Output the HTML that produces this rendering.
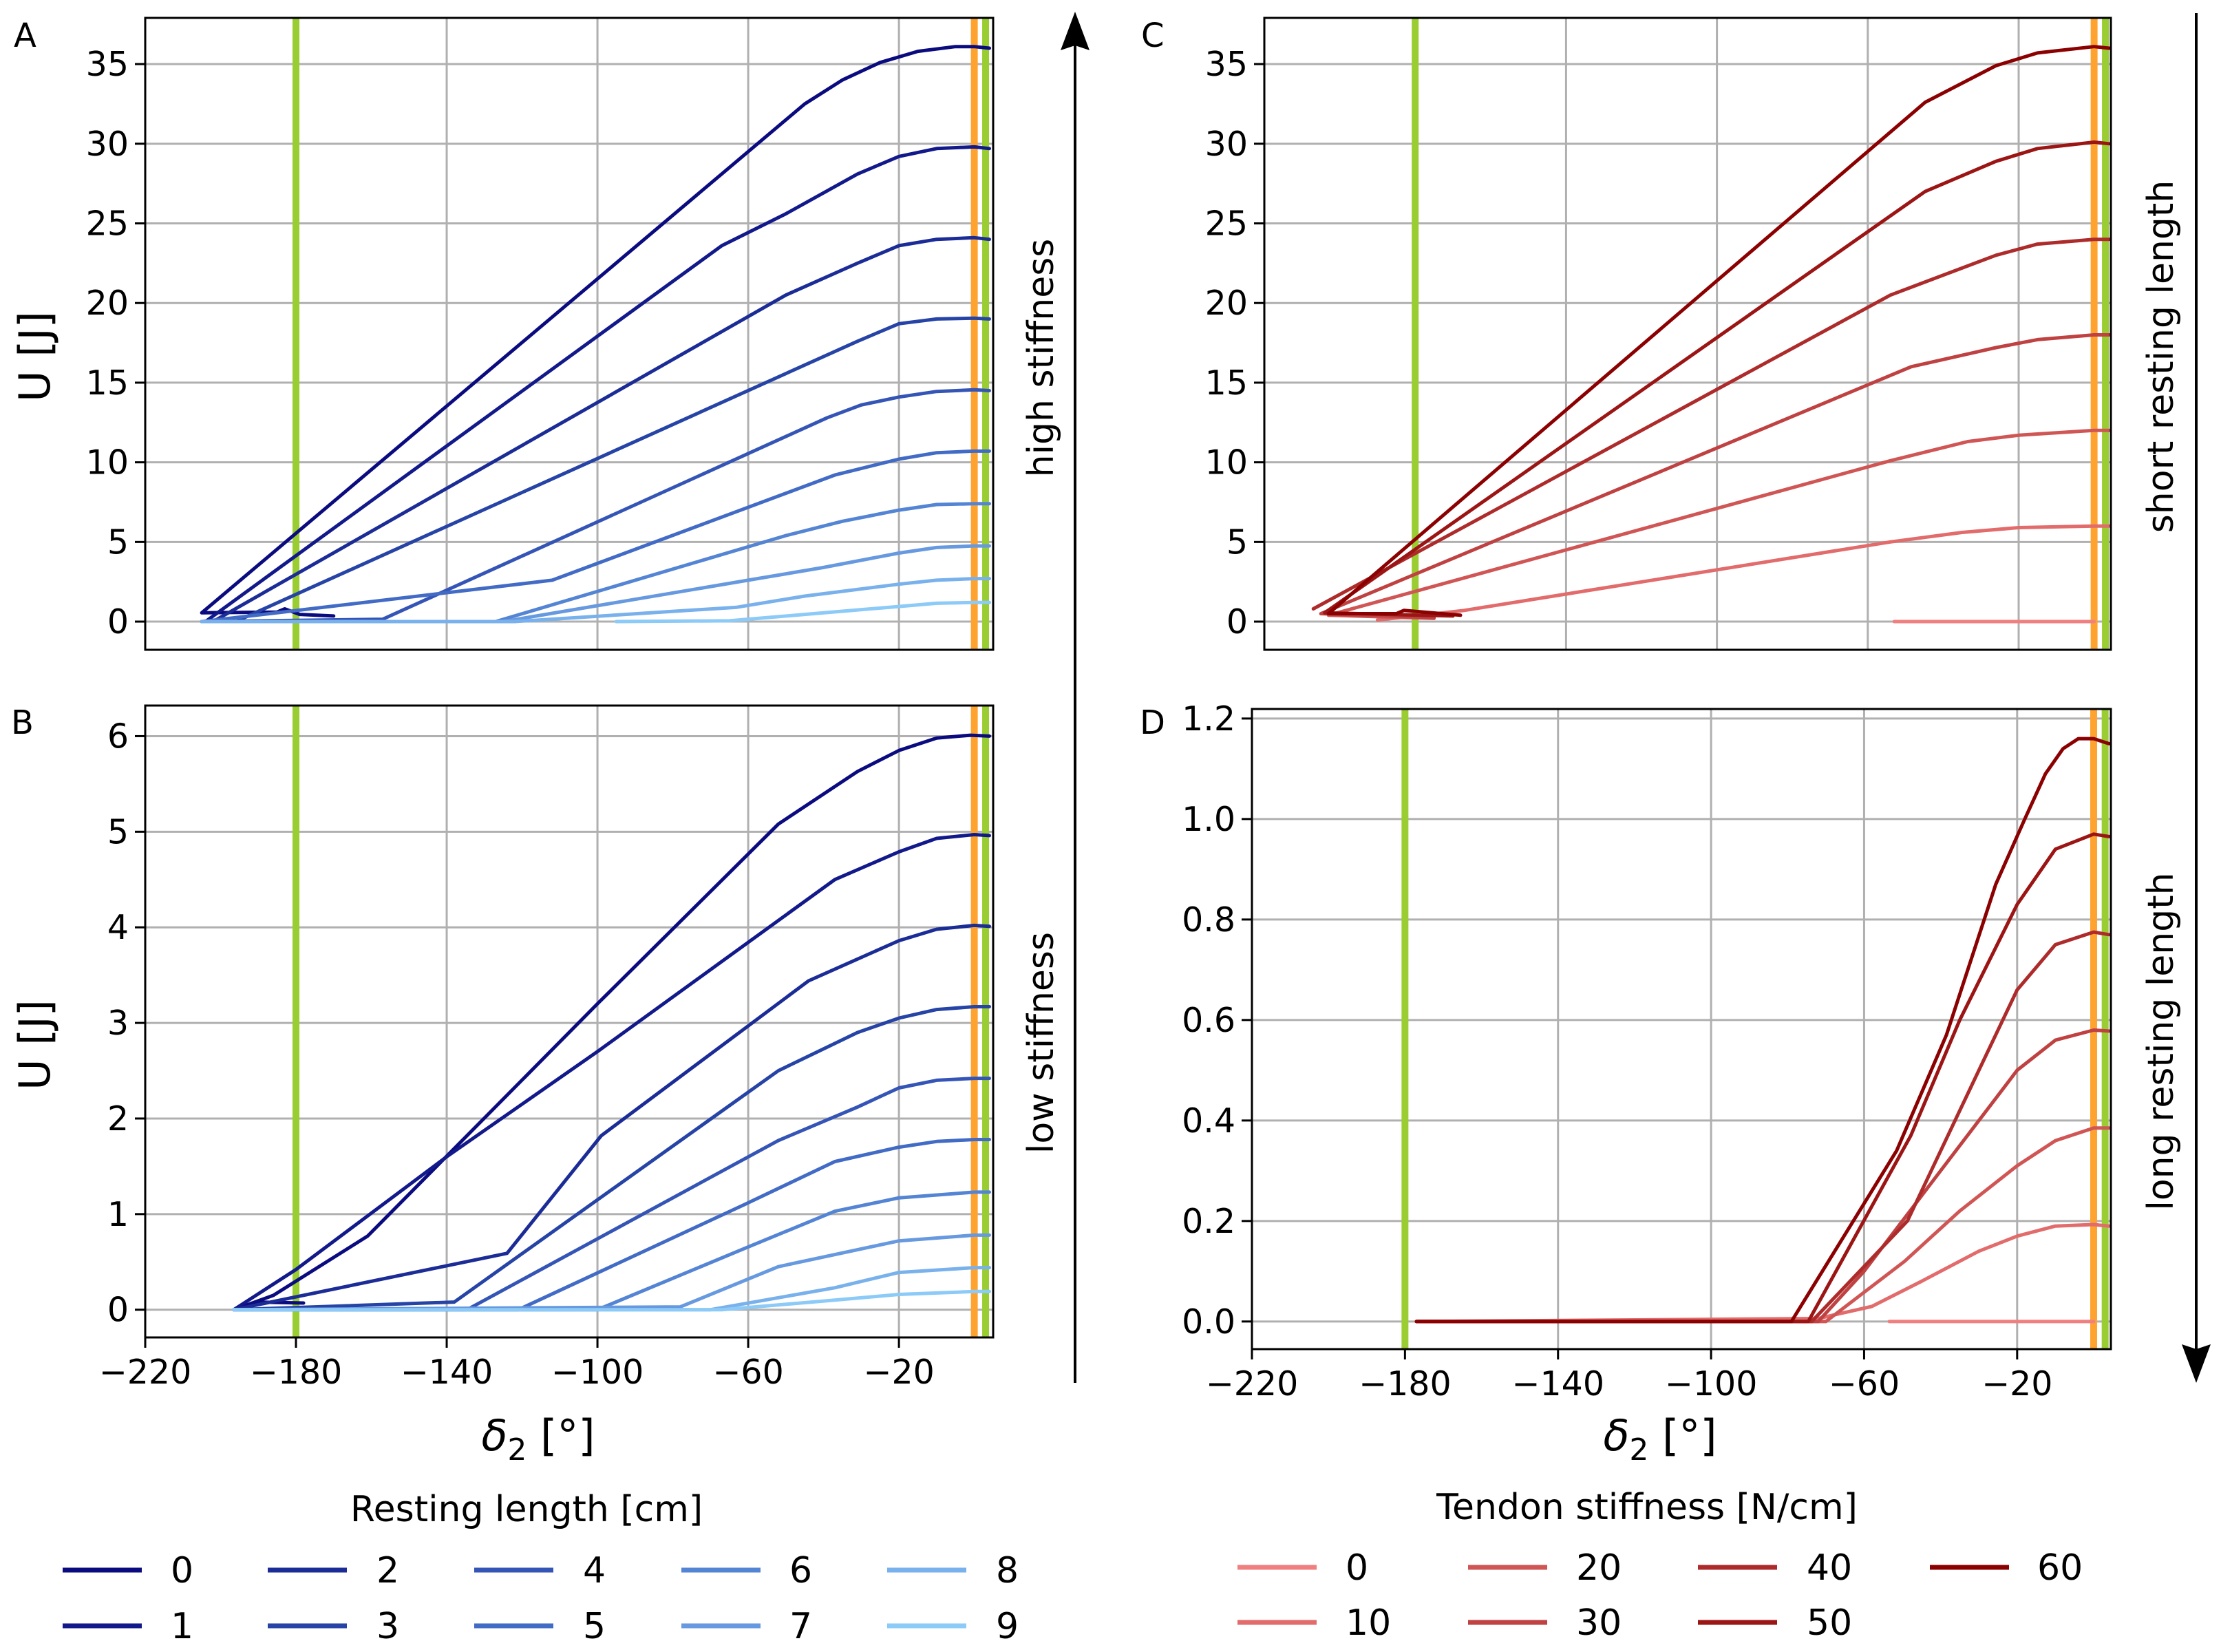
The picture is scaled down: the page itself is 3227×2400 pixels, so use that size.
<!DOCTYPE html>
<html><head><meta charset="utf-8"><style>
html,body{margin:0;padding:0;background:#fff;}
svg{display:block;font-family:"DejaVu Sans","Liberation Sans",sans-serif;}
</style></head><body>
<svg id="fig" xmlns="http://www.w3.org/2000/svg" width="3227" height="2400" viewBox="0 0 3227 2400">
<rect width="3227" height="2400" fill="#fff"/>
</svg>
<script>
const blues = ["#0b0b80","#12198a","#1b2c96","#2643a6","#3455b6","#426bc6","#5484d4","#6699df","#79b1ec","#8ccaf7"];
const reds = ["#f08080","#e26b6b","#d05656","#bf4141","#ad2b2b","#9c1515","#8b0000"];
const restingLabels = ["0","1","2","3","4","5","6","7","8","9"];
const stiffLabels = ["0","10","20","30","40","50","60"];
const xTicks = [-220,-180,-140,-100,-60,-20];
const yTicksBig = [0,5,10,15,20,25,30,35];
const yTicksB = [0,1,2,3,4,5,6];
const yTicksD = [0,0.2,0.4,0.6,0.8,1.0,1.2];
const vGreen = [-180,3];
const vOrange = [0];

const A0 = [[-170,0.35],[-179,0.45],[-183,0.8],[-185,0.6],[-205,0.55],[-45,32.5],[-35,34],[-25,35.1],[-15,35.8],[-5,36.1],[0,36.1],[4,36.0]];
const A1 = [[-204,0],[-67,23.6],[-50,25.6],[-31,28.1],[-20,29.2],[-10,29.7],[0,29.8],[4,29.7]];
const A2 = [[-202,0],[-50,20.5],[-31,22.5],[-20,23.6],[-10,24.0],[0,24.1],[4,24.0]];
const A3 = [[-196,0],[-31,17.6],[-20,18.7],[-10,19.0],[0,19.05],[4,19.0]];
const A4 = [[-205,0],[-157,0.15],[-39,12.8],[-30,13.6],[-20,14.1],[-10,14.45],[0,14.55],[4,14.5]];
const A5 = [[-205,0],[-187,0.5],[-112,2.6],[-37,9.2],[-20,10.2],[-10,10.6],[0,10.7],[4,10.7]];
const A6 = [[-205,0],[-127,0],[-50,5.4],[-35,6.3],[-20,7.0],[-10,7.35],[0,7.4],[4,7.4]];
const A7 = [[-205,0],[-125,0],[-60,2.6],[-40,3.4],[-20,4.3],[-10,4.65],[0,4.75],[4,4.75]];
const A8 = [[-205,0],[-122,0],[-63,0.9],[-45,1.6],[-20,2.35],[-10,2.6],[0,2.7],[4,2.7]];
const A9 = [[-95,0],[-65,0.05],[-45,0.45],[-20,0.95],[-10,1.15],[0,1.2],[4,1.2]];

const B0 = [[-178,0.07],[-190,0.08],[-196.5,0],[-186,0.15],[-161,0.77],[-100,3.2],[-52,5.08],[-31,5.63],[-20,5.85],[-10,5.98],[-1,6.01],[4,6.0]];
const B1 = [[-196.5,0],[-180,0.42],[-140,1.6],[-100,2.7],[-37,4.5],[-20,4.79],[-10,4.93],[0,4.97],[4,4.96]];
const B2 = [[-196.5,0],[-124,0.59],[-99,1.82],[-44,3.44],[-20,3.86],[-10,3.98],[0,4.02],[4,4.01]];
const B3 = [[-196.5,0],[-138,0.08],[-52,2.5],[-31,2.9],[-20,3.05],[-10,3.14],[0,3.17],[4,3.17]];
const B4 = [[-196.5,0],[-134.6,0],[-52,1.77],[-31,2.12],[-20,2.32],[-10,2.4],[0,2.42],[4,2.42]];
const B5 = [[-196.5,0],[-121,0],[-61,1.1],[-37,1.55],[-20,1.7],[-10,1.76],[0,1.78],[4,1.78]];
const B6 = [[-196.5,0],[-100,0],[-61,0.64],[-37,1.03],[-20,1.17],[0,1.23],[4,1.23]];
const B7 = [[-196.5,0],[-78,0.03],[-52,0.45],[-20,0.72],[0,0.78],[4,0.78]];
const B8 = [[-196.5,0],[-70,0],[-37,0.23],[-20,0.39],[0,0.44],[4,0.44]];
const B9 = [[-196.5,0],[-67,0],[-37,0.1],[-20,0.16],[0,0.19],[4,0.19]];

const C0 = [[-53,0],[0,0]];
const C1 = [[-190,0.1],[-180,0.35],[-167,0.7],[-54,5.0],[-35,5.6],[-20,5.9],[0,6.0],[4,6.0]];
const C2 = [[-175,0.2],[-203,0.4],[-54,10.1],[-33.5,11.3],[-20,11.7],[0,12.0],[4,12.0]];
const C3 = [[-175,0.25],[-205,0.5],[-48.5,16],[-26,17.2],[-15,17.7],[0,18.0],[4,18.0]];
const C4 = [[-207,0.8],[-54,20.5],[-26,23],[-15,23.7],[0,24.0],[4,24.0]];
const C5 = [[-170,0.35],[-204,0.55],[-44.8,27.0],[-26,28.9],[-15,29.7],[0,30.1],[4,30.0]];
const C6 = [[-168,0.4],[-183,0.7],[-185,0.5],[-203,0.5],[-44.8,32.6],[-26,34.9],[-15,35.7],[0,36.1],[4,36.0]];

const D0 = [[-53.4,0],[0,0]];
const D1 = [[-177,0],[-72,0.006],[-58,0.03],[-45,0.08],[-30,0.14],[-20,0.17],[-10,0.19],[0,0.193],[4,0.19]];
const D2 = [[-177,0],[-70,0],[-49.4,0.12],[-35,0.22],[-20,0.31],[-10,0.36],[0,0.385],[4,0.385]];
const D3 = [[-177,0],[-72,0],[-60,0.1],[-40,0.3],[-20,0.5],[-10,0.56],[0,0.58],[4,0.578]];
const D4 = [[-177,0],[-73.7,0],[-48.7,0.2],[-30,0.5],[-20,0.66],[-10,0.75],[0,0.775],[4,0.77]];
const D5 = [[-177,0],[-74.6,0],[-47.8,0.37],[-35,0.6],[-20,0.83],[-10,0.94],[0,0.97],[4,0.965]];
const D6 = [[-177,0],[-79,0],[-51.5,0.34],[-38.5,0.57],[-25.6,0.87],[-18,1.0],[-12.6,1.09],[-8,1.14],[-4,1.16],[0,1.16],[4,1.15]];

const NS = "http://www.w3.org/2000/svg";
const svg = document.getElementById('fig');
function mk(tag, attrs, parent){ const e=document.createElementNS(NS,tag); for(const k in attrs) e.setAttribute(k,attrs[k]); (parent||svg).appendChild(e); return e; }

function panel(cfg){
  const g = mk('g',{});
  
  
  const sx = v => cfg.x0 + (v - cfg.xmin) / (cfg.xmax - cfg.xmin) * (cfg.x1 - cfg.x0);
  const sy = v => cfg.y1 - (v - cfg.ymin) / (cfg.ymax - cfg.ymin) * (cfg.y1 - cfg.y0);
  const clipId = 'clip-' + cfg.name;
  const cp = mk('clipPath',{id:clipId}, g);
  mk('rect',{x:cfg.x0,y:cfg.y0,width:cfg.x1-cfg.x0,height:cfg.y1-cfg.y0}, cp);
  xTicks.forEach(t => {
    const l = mk('line',{x1:sx(t),x2:sx(t),y1:cfg.y0,y2:cfg.y1,stroke:'#b0b0b0','stroke-width':3}, g);
    
    
  });
  cfg.yticks.forEach(t => {
    const l = mk('line',{x1:cfg.x0,x2:cfg.x1,y1:sy(t),y2:sy(t),stroke:'#b0b0b0','stroke-width':3}, g);
    
    
    const tk = mk('line',{x1:cfg.x0-15,x2:cfg.x0,y1:sy(t),y2:sy(t),stroke:'#000','stroke-width':3}, g);
    
    
    const tx = mk('text',{x:cfg.x0-24,y:sy(t)+17,'text-anchor':'end','font-size':49,fill:'#000'}, g);
    tx.textContent = cfg.yfmt(t);
    
    
  });
  const cg = mk('g',{'clip-path':'url(#'+clipId+')'}, g);
  vGreen.forEach(v => {
    const l = mk('line',{x1:sx(v),x2:sx(v),y1:cfg.y0,y2:cfg.y1,stroke:'#9acd32','stroke-width':10}, cg);
    
    
  });
  vOrange.forEach(v => {
    const l = mk('line',{x1:sx(v),x2:sx(v),y1:cfg.y0,y2:cfg.y1,stroke:'#ffa330','stroke-width':10}, cg);
    
    
  });
  cfg.series.forEach((s,i) => {
    const p = mk('polyline',{points:s.map(d=>sx(d[0]).toFixed(1)+','+sy(d[1]).toFixed(1)).join(' '),fill:'none',stroke:cfg.colors[i],'stroke-width':5,'stroke-linejoin':'round','stroke-linecap':'round'}, cg);
    
    
  });
  const fr = mk('rect',{x:cfg.x0,y:cfg.y0,width:cfg.x1-cfg.x0,height:cfg.y1-cfg.y0,fill:'none',stroke:'#000','stroke-width':3}, g);
  
  
  if(cfg.xlabels){
    xTicks.forEach(t => {
      const tk = mk('line',{x1:sx(t),x2:sx(t),y1:cfg.y1,y2:cfg.y1+15,stroke:'#000','stroke-width':3}, g);
      
      
      const tx = mk('text',{x:sx(t),y:cfg.y1+67,'text-anchor':'middle','font-size':49,fill:'#000'}, g);
      tx.textContent = '\u2212' + Math.abs(t);
      
      
    });
  }
}
const big = t => String(t);
panel({name:'panel-a',x0:211,x1:1443,y0:26,y1:944,xmin:-220,xmax:5,ymin:-1.77,ymax:37.9,yticks:yTicksBig,yfmt:big,series:[A0,A1,A2,A3,A4,A5,A6,A7,A8,A9],colors:blues,labels:restingLabels,xlabels:false});
panel({name:'panel-b',x0:211,x1:1443,y0:1025,y1:1943,xmin:-220,xmax:5,ymin:-0.29,ymax:6.32,yticks:yTicksB,yfmt:big,series:[B0,B1,B2,B3,B4,B5,B6,B7,B8,B9],colors:blues,labels:restingLabels,xlabels:true});
panel({name:'panel-c',x0:1837,x1:3067,y0:26,y1:944,xmin:-220,xmax:4.45,ymin:-1.77,ymax:37.9,yticks:yTicksBig,yfmt:big,series:[C0,C1,C2,C3,C4,C5,C6],colors:reds,labels:stiffLabels,xlabels:false});
panel({name:'panel-d',x0:1819,x1:3067,y0:1030,y1:1960,xmin:-220,xmax:4.5,ymin:-0.055,ymax:1.219,yticks:yTicksD,yfmt:t=>t.toFixed(1),series:[D0,D1,D2,D3,D4,D5,D6],colors:reds,labels:stiffLabels,xlabels:true});

function legend(name, labels, colors, lineX, labelX, rows){
  const g = mk('g',{});
  
  
  labels.forEach((lab,i) => {
    const col = Math.floor(i/2), row = i%2;
    const y = rows[row];
    const l = mk('line',{x1:lineX[col],x2:lineX[col]+115,y1:y,y2:y,stroke:colors[i],'stroke-width':7}, g);
    
    
    const t = mk('text',{x:labelX[col],y:y+18,'font-size':52,fill:'#000'}, g);
    t.textContent = lab;
    
    
  });
}
legend('resting-length-legend', restingLabels, blues, [91,389,689,990,1289], [248,547,847,1147,1447], [2281,2362]);
legend('tendon-stiffness-legend', stiffLabels, reds, [1798,2133,2467,2804], [1955,2290,2625,2960], [2277,2357]);
</script>
<script>
(function(){
  const add = (html) => { svg.insertAdjacentHTML('beforeend', html); };
  add('<text x="20" y="68" font-size="48">A</text>');
  add('<text x="16" y="1066" font-size="48">B</text>');
  add('<text x="1658" y="68" font-size="48">C</text>');
  add('<text x="1656" y="1066" font-size="48">D</text>');
  add('<text transform="translate(72,518) rotate(-90)" text-anchor="middle" font-size="62">U [J]</text>');
  add('<text transform="translate(72,1518) rotate(-90)" text-anchor="middle" font-size="62">U [J]</text>');
  add('<text x="782" y="2107" text-anchor="middle" font-size="62"><tspan font-style="italic">δ</tspan><tspan font-size="44" dy="14">2</tspan><tspan dy="-14"> [°]</tspan></text>');
  add('<text x="2412" y="2107" text-anchor="middle" font-size="62"><tspan font-style="italic">δ</tspan><tspan font-size="44" dy="14">2</tspan><tspan dy="-14"> [°]</tspan></text>');
  add('<text x="765" y="2210" text-anchor="middle" font-size="52">Resting length [cm]</text>');
  add('<text x="2393" y="2207" text-anchor="middle" font-size="52">Tendon stiffness [N/cm]</text>');
  add('<text transform="translate(1530,520) rotate(-90)" text-anchor="middle" font-size="52">high stiffness</text>');
  add('<text transform="translate(1530,1515) rotate(-90)" text-anchor="middle" font-size="52">low stiffness</text>');
  add('<text transform="translate(3157,518) rotate(-90)" text-anchor="middle" font-size="52">short resting length</text>');
  add('<text transform="translate(3157,1513) rotate(-90)" text-anchor="middle" font-size="52">long resting length</text>');
  add('<g><line x1="1562" y1="60" x2="1562" y2="2009" stroke="#000" stroke-width="4"/><polygon points="1562,17 1541,73 1562,66 1583,73" fill="#000"/></g>');
  add('<g><line x1="3191" y1="19" x2="3191" y2="1965" stroke="#000" stroke-width="4"/><polygon points="3191,2009 3170,1953 3191,1960 3212,1953" fill="#000"/></g>');
})();
</script>
</body></html>
